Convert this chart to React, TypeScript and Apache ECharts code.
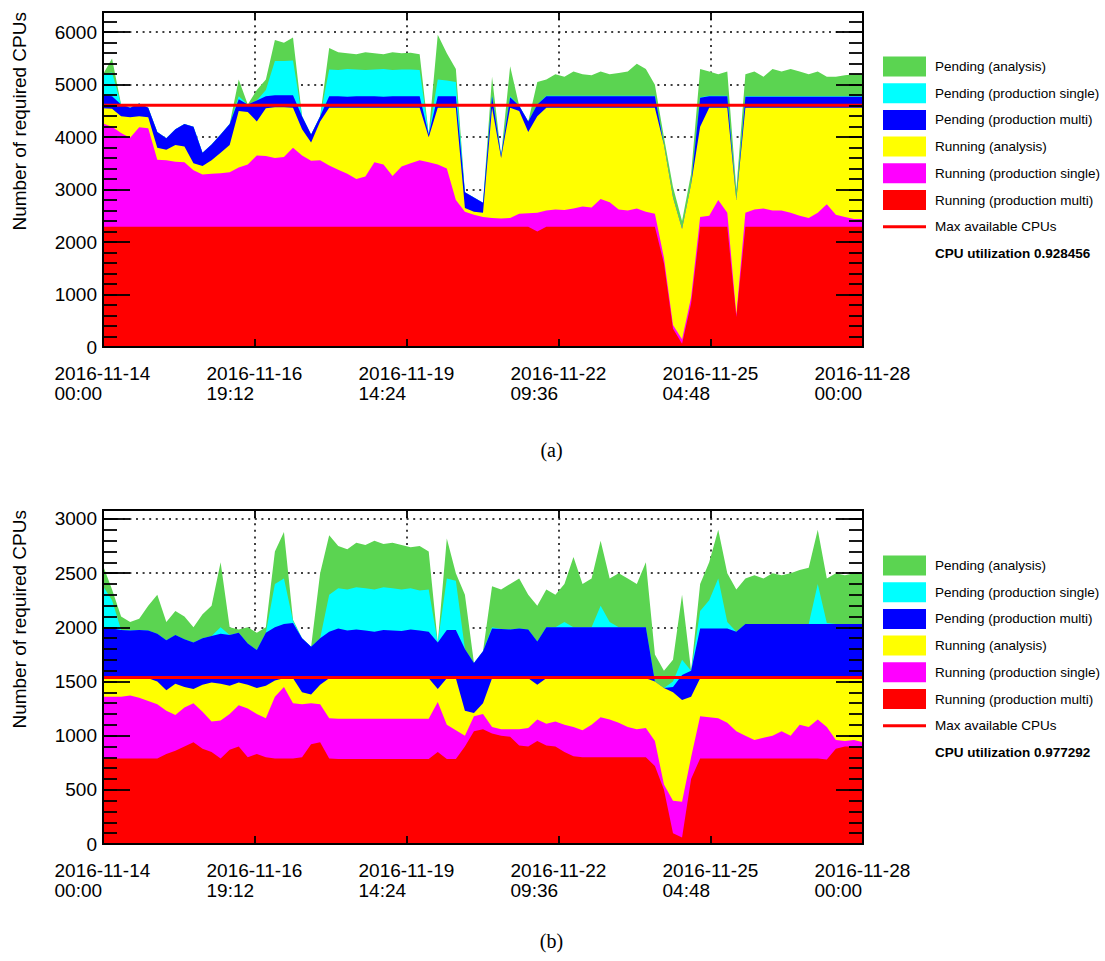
import React, { useEffect, useRef } from "react";
import * as echarts from "echarts";

// Sampling times: hours after 2016-11-14 00:00 (every 4 h)
const HOURS = [
  0, 4, 8, 12, 16, 20, 24, 28, 32, 36, 40, 44, 48, 52, 56, 60, 64, 68, 72, 76,
  80, 84, 88, 92, 96, 100, 104, 108, 112, 116, 120, 124, 128, 132, 136, 140, 144, 148, 152, 156,
  160, 164, 168, 172, 176, 180, 184, 188, 192, 196, 200, 204, 208, 212, 216, 220, 224, 228, 232, 236,
  240, 244, 248, 252, 256, 260, 264, 268, 272, 276, 280, 284, 288, 292, 296, 300, 304, 308, 312, 316,
  320, 324, 328, 332, 336,
];

const X_TICK_LABELS = [
  "2016-11-14\n00:00",
  "2016-11-16\n19:12",
  "2016-11-19\n14:24",
  "2016-11-22\n09:36",
  "2016-11-25\n04:48",
  "2016-11-28\n00:00",
];

const LEGEND_NAMES = [
  "Pending (analysis)",
  "Pending (production single)",
  "Pending (production multi)",
  "Running (analysis)",
  "Running (production single)",
  "Running (production multi)",
];
const COLORS = ["#5bd451", "#00ffff", "#0000ff", "#ffff00", "#ff00ff", "#ff0000"];

// ---- Panel (a): upper edge of each stacked layer (number of CPUs) ----
const A_RUN_MULTI = [
  2290, 2290, 2290, 2290, 2290, 2290, 2290, 2290, 2290, 2290,
  2290, 2290, 2290, 2290, 2290, 2290, 2290, 2290, 2290, 2290,
  2290, 2290, 2290, 2290, 2290, 2290, 2290, 2290, 2290, 2290,
  2290, 2290, 2290, 2290, 2290, 2290, 2290, 2290, 2290, 2290,
  2290, 2290, 2290, 2290, 2290, 2290, 2290, 2290, 2200, 2290,
  2290, 2290, 2290, 2290, 2290, 2290, 2290, 2290, 2290, 2290,
  2290, 2290, 1590, 350, 60, 830, 2290, 2290, 2290, 2290,
  570, 2290, 2290, 2290, 2290, 2290, 2290, 2290, 2290, 2290,
  2290, 2290, 2290, 2290, 2290,
];
const A_RUN_SINGLE = [
  4260, 4200, 4080, 3990, 4190, 4170, 3570, 3560, 3530, 3520,
  3370, 3290, 3300, 3310, 3330, 3420, 3480, 3650, 3640, 3600,
  3620, 3800, 3650, 3550, 3560, 3460, 3380, 3300, 3200, 3250,
  3520, 3480, 3260, 3440, 3500, 3560, 3520, 3480, 3400, 2800,
  2580, 2520, 2480, 2460, 2450, 2460, 2540, 2550, 2560, 2600,
  2620, 2610, 2640, 2680, 2660, 2820, 2760, 2620, 2600, 2640,
  2580, 2540, 1700, 420, 150, 950, 2480, 2500, 2800, 2560,
  620, 2560, 2620, 2640, 2600, 2600, 2560, 2500, 2460, 2560,
  2720, 2520, 2480, 2440, 2440,
];
const A_RUN_ANALYSIS = [
  4550, 4540, 4400, 4380, 4400, 4380, 3800, 3760, 3850, 3820,
  3500, 3450, 3560, 3700, 3850, 4500, 4480, 4300, 4550, 4570,
  4570, 4560, 4150, 3900, 4300, 4560, 4560, 4560, 4560, 4560,
  4560, 4560, 4560, 4560, 4560, 4560, 4000, 4560, 4560, 4560,
  2650, 2580, 2560, 4560, 3600, 4560, 4500, 4100, 4400, 4560,
  4560, 4560, 4560, 4560, 4560, 4560, 4560, 4560, 4560, 4560,
  4560, 4560, 3850, 2850, 2250, 3100, 4200, 4560, 4560, 4560,
  2800, 4560, 4560, 4560, 4560, 4560, 4560, 4560, 4560, 4560,
  4560, 4560, 4560, 4560, 4560,
];
const A_PEND_MULTI = [
  4800, 4780, 4620, 4560, 4640, 4560, 4100, 3980, 4150, 4250,
  4200, 3700, 3860, 4050, 4250, 4720, 4620, 4700, 4780, 4800,
  4800, 4800, 4400, 4050, 4400, 4780, 4780, 4770, 4780, 4780,
  4780, 4770, 4780, 4780, 4780, 4780, 4050, 4780, 4780, 4780,
  2950, 2850, 2750, 4780, 3650, 4760, 4600, 4300, 4620, 4780,
  4780, 4780, 4780, 4780, 4780, 4780, 4780, 4780, 4780, 4780,
  4780, 4780, 3850, 2850, 2250, 3100, 4750, 4780, 4780, 4780,
  2800, 4770, 4770, 4770, 4770, 4770, 4770, 4770, 4770, 4770,
  4770, 4770, 4770, 4770, 4770,
];
const A_PEND_SINGLE = [
  5210, 5230, 4620, 4560, 4640, 4560, 4100, 3980, 4150, 4250,
  4200, 3700, 3860, 4050, 4250, 4780, 4620, 4700, 4900, 5450,
  5450, 5460, 4400, 4050, 4400, 5290, 5280, 5300, 5290, 5280,
  5290, 5300, 5280, 5290, 5290, 5280, 4050, 5100, 5080, 5050,
  2950, 2850, 2750, 4800, 3650, 4780, 4600, 4300, 4620, 4790,
  4790, 4790, 4790, 4790, 4790, 4790, 4790, 4790, 4790, 4790,
  4790, 4790, 3850, 2850, 2250, 3100, 4760, 4790, 4790, 4790,
  2800, 4780, 4780, 4780, 4780, 4780, 4780, 4780, 4780, 4780,
  4780, 4780, 4780, 4780, 4780,
];
const A_PEND_ANALYSIS = [
  5200, 5500, 4620, 4560, 4640, 4560, 4100, 3980, 4150, 4250,
  4200, 3700, 3860, 4050, 4250, 5100, 4620, 4900, 5100, 5850,
  5800, 5900, 4400, 4050, 4400, 5700, 5620, 5600, 5580, 5620,
  5600, 5580, 5620, 5600, 5610, 5580, 4050, 5950, 5600, 5300,
  2950, 2850, 2750, 5150, 3650, 5350, 4600, 4300, 5050, 5100,
  5200, 5150, 5250, 5200, 5180, 5250, 5200, 5220, 5250, 5400,
  5300, 5000, 4000, 3050, 2400, 3300, 5300, 5250, 5200, 5250,
  3000, 5200, 5250, 5150, 5300, 5250, 5300, 5250, 5200, 5250,
  5150, 5150, 5180, 5200, 5200,
];
const A_MAX_CPUS = 4610;

// ---- Panel (b): upper edge of each stacked layer (number of CPUs) ----
const B_RUN_MULTI = [
  790, 790, 790, 790, 790, 790, 790, 830, 860, 900,
  940, 880, 850, 790, 870, 900, 800, 830, 800, 790,
  790, 790, 800, 920, 940, 790, 784, 784, 784, 784,
  784, 784, 784, 784, 784, 784, 784, 850, 784, 784,
  900, 1040, 1060, 1020, 1000, 990, 910, 900, 950, 910,
  900, 850, 810, 800, 800, 800, 800, 800, 800, 800,
  800, 720, 500, 100, 60, 600, 790, 790, 790, 790,
  790, 790, 790, 790, 790, 790, 790, 790, 790, 790,
  780, 880, 900, 900, 900,
];
const B_RUN_SINGLE = [
  1360, 1360, 1360, 1370, 1350, 1320, 1290, 1230, 1190, 1260,
  1300, 1220, 1130, 1140, 1200, 1280, 1250, 1200, 1160, 1360,
  1450, 1300, 1290, 1300, 1290, 1160, 1155, 1155, 1155, 1155,
  1155, 1155, 1155, 1155, 1155, 1155, 1155, 1310, 1100, 1050,
  1000, 1180, 1200, 1080, 1060, 1060, 1060, 1070, 1150, 1110,
  1130, 1100, 1080, 1050, 1100, 1170, 1150, 1120, 1080, 1060,
  1070, 950, 550, 400, 390, 800, 1180, 1170, 1160, 1120,
  1040, 1000, 960, 980, 1000, 1040, 1000, 1100, 1080, 1150,
  1080, 960, 950, 960, 940,
];
const B_RUN_ANALYSIS = [
  1530, 1530, 1530, 1530, 1530, 1530, 1500, 1420, 1480, 1450,
  1430, 1470, 1490, 1480, 1460, 1490, 1470, 1440, 1460, 1510,
  1530, 1530, 1400, 1380, 1470, 1530, 1530, 1530, 1530, 1530,
  1530, 1530, 1530, 1530, 1530, 1530, 1530, 1430, 1530, 1530,
  1230, 1210, 1300, 1530, 1530, 1530, 1530, 1530, 1470, 1530,
  1530, 1530, 1530, 1530, 1530, 1530, 1530, 1530, 1530, 1530,
  1530, 1500, 1440, 1400, 1330, 1360, 1530, 1530, 1530, 1530,
  1530, 1530, 1530, 1530, 1530, 1530, 1530, 1530, 1530, 1530,
  1530, 1530, 1530, 1530, 1530,
];
const B_PEND_MULTI = [
  1990, 1990, 1975, 1970, 1975, 1970, 1940, 1880, 1930, 1890,
  1860, 1900, 1920, 1940, 1930, 1950, 1850, 1790, 1950, 2000,
  2030, 2040, 1900, 1820, 1900, 1960, 1990, 1970, 1980, 1970,
  1960, 1975, 1970, 1965, 1980, 1970, 1960, 1860, 1975, 1975,
  1800, 1670, 1780, 1990, 1985, 1980, 1990, 1980, 1870, 2000,
  2000, 2000, 2000, 2000, 2000, 2000, 2000, 2000, 2000, 2000,
  2000, 1500, 1440, 1450, 1560, 1600, 1990, 1990, 1990, 1990,
  1960, 2030, 2030, 2030, 2030, 2030, 2030, 2030, 2030, 2030,
  2030, 2030, 2030, 2030, 2030,
];
const B_PEND_SINGLE = [
  2380, 2250, 1975, 1970, 1975, 1970, 1940, 1880, 1930, 1890,
  1860, 1900, 1920, 2000, 1930, 1950, 1850, 1790, 1950, 2400,
  2450, 2060, 1900, 1820, 1900, 2300, 2360, 2350, 2370, 2360,
  2350, 2370, 2360, 2350, 2360, 2340, 2350, 1860, 2450, 2430,
  1800, 1670, 1780, 2000, 1985, 1980, 1990, 1980, 1870, 2000,
  2000, 2050, 2000, 2000, 2000, 2200, 2050, 2000, 2000, 2000,
  2000, 1500, 1440, 1500, 1700, 1600, 2150, 2250, 2450, 2050,
  1960, 2030, 2030, 2030, 2030, 2030, 2030, 2030, 2030, 2400,
  2040, 2030, 2030, 2030, 2030,
];
const B_PEND_ANALYSIS = [
  2570, 2350, 2100, 2050, 2080, 2200, 2300, 2050, 2150, 2100,
  2000, 2120, 2200, 2600, 2000, 1980, 2000, 1950, 2000, 2700,
  2880, 2070, 1900, 1820, 2500, 2850, 2750, 2720, 2780, 2760,
  2800, 2770, 2780, 2760, 2740, 2750, 2700, 1860, 2820, 2500,
  2300, 1670, 1780, 2380, 2350, 2400, 2450, 2300, 2200, 2350,
  2300, 2400, 2650, 2400, 2450, 2800, 2450, 2500, 2450, 2400,
  2600, 1750, 1600, 1700, 2300, 1600, 2400, 2600, 2900, 2500,
  2350, 2450, 2480, 2450, 2500, 2480, 2500, 2530, 2550, 2900,
  2450, 2500, 2480, 2500, 2500,
];
const B_MAX_CPUS = 1536;

const FONT = "Liberation Sans";
const X_MAX = 336;
const X_STEP = 67.2;

type Panel = {
  top: number;
  height: number;
  yMax: number;
  yMajor: number;
  yMinor: number;
  levels: number[][];
  maxCpus: number;
  util: string;
  legendY: number;
  caption: string;
  captionY: number;
};

const PANELS: Panel[] = [
  {
    top: 12, height: 335, yMax: 6385, yMajor: 1000, yMinor: 200,
    levels: [A_PEND_ANALYSIS, A_PEND_SINGLE, A_PEND_MULTI, A_RUN_ANALYSIS, A_RUN_SINGLE, A_RUN_MULTI],
    maxCpus: A_MAX_CPUS, util: "CPU utilization 0.928456", legendY: 66.5, caption: "(a)", captionY: 450,
  },
  {
    top: 510, height: 334, yMax: 3083, yMajor: 500, yMinor: 100,
    levels: [B_PEND_ANALYSIS, B_PEND_SINGLE, B_PEND_MULTI, B_RUN_ANALYSIS, B_RUN_SINGLE, B_RUN_MULTI],
    maxCpus: B_MAX_CPUS, util: "CPU utilization 0.977292", legendY: 565.5, caption: "(b)", captionY: 941,
  },
];

function buildOption() {
  const grid: any[] = [];
  const xAxis: any[] = [];
  const yAxis: any[] = [];
  const series: any[] = [];
  const graphic: any[] = [];
  const dotted = { type: [2, 4.6], color: "#000", width: 1.5 };
  const tickStyle = { color: "#000", width: 1.8 };
  const frame = { show: true, onZero: false, lineStyle: { color: "#000", width: 2 } };
  const noLine = { show: false, onZero: false };

  PANELS.forEach((p, g) => {
    grid.push({ left: 103, top: p.top, width: 760, height: p.height });
    const xBase = { type: "value", gridIndex: g, min: 0, max: X_MAX, interval: X_STEP };
    // split lines
    xAxis.push({ ...xBase, position: "bottom", axisLine: noLine, axisTick: { show: false },
      axisLabel: { show: false }, splitLine: { show: true, lineStyle: dotted } });
    // bottom frame with labels
    xAxis.push({ ...xBase, position: "bottom", z: 10, axisLine: frame,
      axisTick: { show: true, inside: true, length: 8, lineStyle: tickStyle },
      splitLine: { show: false },
      axisLabel: {
        margin: 16,
        formatter: (v: number) => {
          const lab = X_TICK_LABELS[Math.round(v / X_STEP)] || "";
          const [d, t] = lab.split("\n");
          return `{a|${d}}\n{a|${t}}`;
        },
        rich: { a: { width: 97, align: "left", fontSize: 19, fontFamily: FONT, color: "#000", lineHeight: 20 } },
      } });
    // top frame
    xAxis.push({ ...xBase, position: "top", z: 10, axisLine: frame,
      axisTick: { show: true, inside: true, length: 8, lineStyle: tickStyle },
      axisLabel: { show: false }, splitLine: { show: false } });

    const yBase = { type: "value", gridIndex: g, min: 0, max: p.yMax };
    yAxis.push({ ...yBase, interval: p.yMajor, position: "left", axisLine: noLine,
      axisTick: { show: false }, axisLabel: { show: false }, splitLine: { show: true, lineStyle: dotted } });
    yAxis.push({ ...yBase, interval: p.yMajor, position: "left", z: 10, axisLine: frame,
      axisTick: { show: true, inside: true, length: 27, lineStyle: tickStyle },
      splitLine: { show: false },
      axisLabel: { margin: 6, fontSize: 19, fontFamily: FONT, color: "#000",
        formatter: (v: number) => (v % p.yMajor === 0 ? String(v) : "") } });
    yAxis.push({ ...yBase, interval: p.yMinor, position: "left", z: 11, axisLine: frame,
      axisTick: { show: true, inside: true, length: 14, lineStyle: tickStyle },
      axisLabel: { show: false }, splitLine: { show: false } });
    yAxis.push({ ...yBase, interval: p.yMajor, position: "right", z: 10, axisLine: frame,
      axisTick: { show: true, inside: true, length: 27, lineStyle: tickStyle },
      axisLabel: { show: false }, splitLine: { show: false } });
    yAxis.push({ ...yBase, interval: p.yMinor, position: "right", z: 11, axisLine: frame,
      axisTick: { show: true, inside: true, length: 14, lineStyle: tickStyle },
      axisLabel: { show: false }, splitLine: { show: false } });

    const xi = g * 3 + 1;
    const yi = g * 5 + 1;
    p.levels.forEach((lv, k) => {
      series.push({
        name: LEGEND_NAMES[k], type: "line", xAxisIndex: xi, yAxisIndex: yi,
        data: HOURS.map((h, i) => [h, lv[i]]),
        symbol: "none", showSymbol: false, silent: true,
        lineStyle: { width: 0 }, itemStyle: { color: COLORS[k] },
        areaStyle: { color: COLORS[k], opacity: 1 },
      });
    });
    series.push({
      name: "Max available CPUs", type: "line", xAxisIndex: xi, yAxisIndex: yi,
      data: [[0, p.maxCpus], [X_MAX, p.maxCpus]],
      symbol: "none", silent: true, lineStyle: { color: "#ff0000", width: 3 }, z: 3,
    });

    // y-axis title
    graphic.push({
      type: "text", x: 19, y: p.top, rotation: Math.PI / 2,
      style: { text: "Number of required CPUs", fill: "#000", fontSize: 19, fontFamily: FONT,
        textAlign: "right", align: "right", textVerticalAlign: "middle", verticalAlign: "middle" },
    });
    // legend
    const gap = 26.7;
    LEGEND_NAMES.forEach((name, k) => {
      const cy = p.legendY + gap * k;
      graphic.push({ type: "rect", shape: { x: 883, y: cy - 10, width: 43, height: 20 }, style: { fill: COLORS[k] } });
      graphic.push({ type: "text", x: 935, y: cy, style: { text: name, fill: "#000", fontSize: 13.5, fontFamily: FONT,
        textVerticalAlign: "middle", verticalAlign: "middle" } });
    });
    const ly = p.legendY + gap * 6;
    graphic.push({ type: "rect", shape: { x: 883, y: ly - 1.5, width: 43, height: 3 }, style: { fill: "#ff0000" } });
    graphic.push({ type: "text", x: 935, y: ly, style: { text: "Max available CPUs", fill: "#000", fontSize: 13.5,
      fontFamily: FONT, textVerticalAlign: "middle", verticalAlign: "middle" } });
    graphic.push({ type: "text", x: 935, y: p.legendY + gap * 7, style: { text: p.util, fill: "#000", fontSize: 13.5,
      fontWeight: "bold", fontFamily: FONT, textVerticalAlign: "middle", verticalAlign: "middle" } });
    // caption
    graphic.push({ type: "text", x: 551.5, y: p.captionY, style: { text: p.caption, fill: "#000", fontSize: 20,
      fontFamily: "Liberation Serif", textAlign: "center", align: "center", textVerticalAlign: "middle", verticalAlign: "middle" } });
  });

  return { animation: false, backgroundColor: "#fff", grid, xAxis, yAxis, series, graphic };
}

export default function App() {
  const ref = useRef<HTMLDivElement>(null);
  useEffect(() => {
    const chart = echarts.init(ref.current!, undefined, { renderer: "svg" });
    chart.setOption(buildOption() as any);
    return () => chart.dispose();
  }, []);
  return <div ref={ref} style={{ position: "absolute", left: 0, top: 0, width: 1105, height: 961 }} />;
}
